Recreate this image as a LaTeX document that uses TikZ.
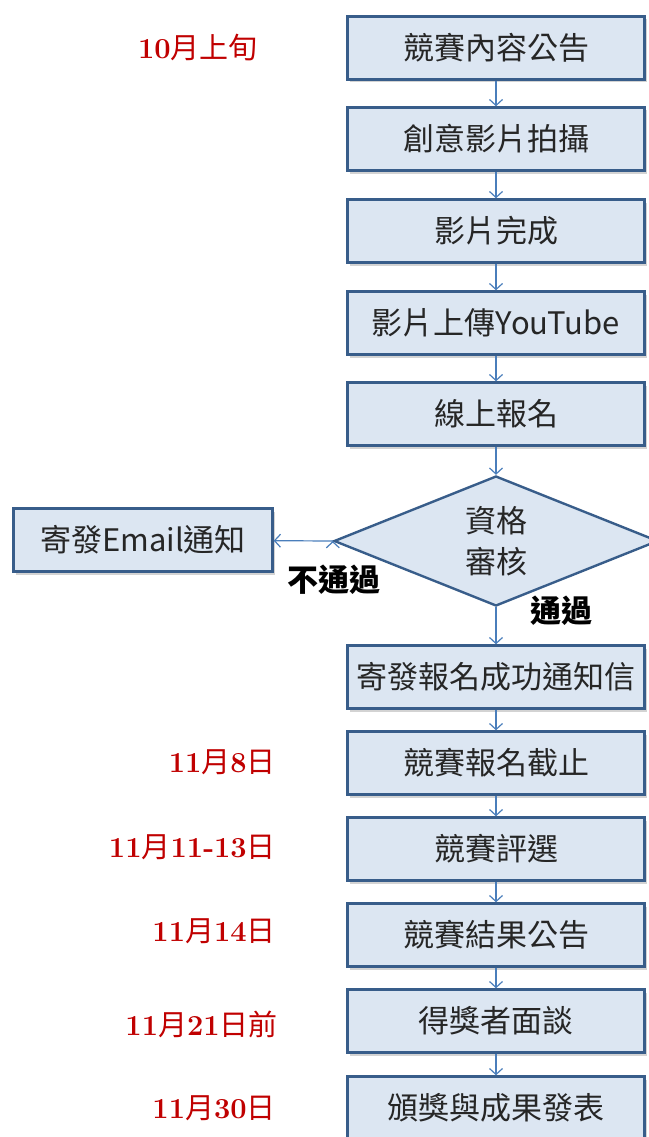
\documentclass[tikz,border=0pt]{standalone}
\usepackage{fontspec}
\newfontfamily\cjk{Noto Sans CJK TC}
\usepackage{tikz}
\usetikzlibrary{shapes.geometric,shadows,arrows.meta}
\definecolor{boxfill}{HTML}{DCE6F2}
\definecolor{boxline}{HTML}{385D8A}
\definecolor{arrline}{HTML}{4A7EBB}
\definecolor{datered}{HTML}{C00000}
\newcommand{\cj}[1]{{\cjk\mdseries #1}}
\tikzset{box/.style={rectangle, draw=boxline, fill=boxfill, line width=2.4pt, minimum width=297pt, minimum height=63pt, inner sep=0pt, font=\cjk\fontsize{31}{36}\selectfont, text=black!85, drop shadow={shadow xshift=2pt, shadow yshift=-3pt, opacity=.35}},
  dec/.style={diamond, draw=boxline, fill=boxfill, line width=2.4pt, minimum width=324pt, minimum height=130pt, inner sep=0pt, shape aspect=2.5, align=center, font=\cjk\fontsize{31}{41}\selectfont, text=black!85},
  date/.style={anchor=east, inner sep=0pt, text=datered, font=\fontsize{29}{30}\selectfont\bfseries},
  lab/.style={inner sep=0pt, font=\cjk\bfseries\fontsize{31}{34}\selectfont},
  arr/.style={draw=arrline, line width=1.2pt, -{Straight Barb[length=6pt,width=13pt]}}}

\begin{document}
\begin{tikzpicture}[x=1pt,y=-1pt]
  \useasboundingbox (0,0) rectangle (648,1137);
  \node[box] (b1) at (496,48) {競賽內容公告};
  \node[box] (b2) at (496,139) {創意影片拍攝};
  \node[box] (b3) at (496,231) {影片完成};
  \node[box] (b4) at (496,323) {影片上傳YouTube};
  \node[box] (b5) at (496,414) {線上報名};
  \node[dec] (d) at (496,541) {資格\\審核};
  \node[box, minimum width=259pt] (m) at (143,540) {寄發Email通知};
  \node[box] (b6) at (496,677) {寄發報名成功通知信};
  \node[box] (b7) at (496,763) {競賽報名截止};
  \node[box] (b8) at (496,849) {競賽評選};
  \node[box] (b9) at (496,935) {競賽結果公告};
  \node[box] (b10) at (496,1021) {得獎者面談};
  \node[box] (b11) at (496,1108) {頒獎與成果發表};
  \node[lab] (n1) at (334,580) {不通過};
  \node[lab] (n2) at (561,611) {通過};
  \node[date] (t1) at (258,48) {10\cj{月上旬}};
  \node[date] (t2) at (276,762) {11\cj{月}8\cj{日}};
  \node[date] (t3) at (276,847) {11\cj{月}11-13\cj{日}};
  \node[date] (t4) at (276,931) {11\cj{月}14\cj{日}};
  \node[date] (t5) at (278,1024) {11\cj{月}21\cj{日前}};
  \node[date] (t6) at (276,1108) {11\cj{月}30\cj{日}};
  \draw[arr] (b1) edge (b2) (b2) edge (b3) (b3) edge (b4) (b4) edge (b5)
  (b5) edge (d.north) (d.south) edge (b6) (d.west) edge (m)
  (b6) edge (b7) (b7) edge (b8) (b8) edge (b9) (b9) edge (b10) (b10) edge (b11);
\end{tikzpicture}
\end{document}
